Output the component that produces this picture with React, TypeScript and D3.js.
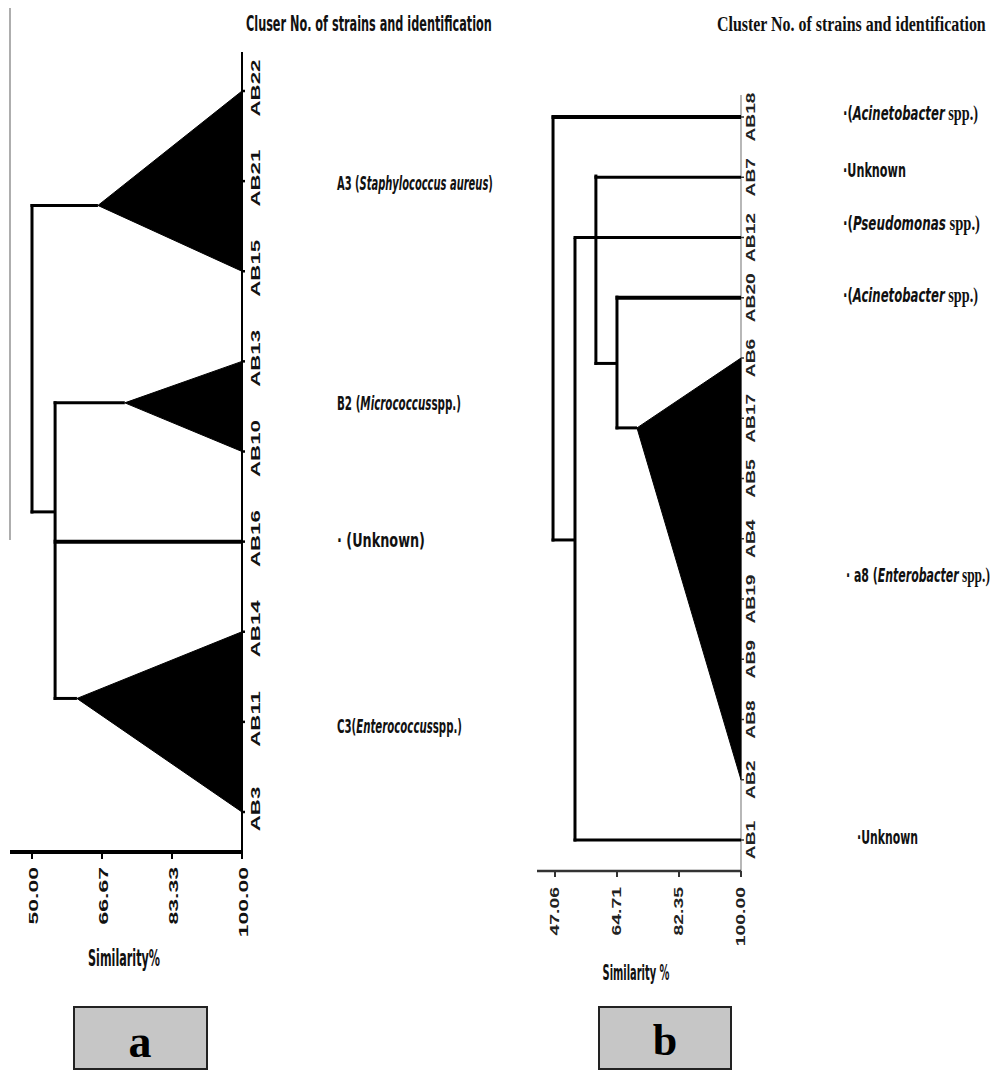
import React, { useLayoutEffect, useRef, useState } from "react";
import * as d3 from "d3";

// ---------- Panel a data ----------
const leavesA = ["AB22", "AB21", "AB15", "AB13", "AB10", "AB16", "AB14", "AB11", "AB3"];
const ticksA = [50.0, 66.67, 83.33, 100.0];
// collapsed clusters: [firstLeafIdx, lastLeafIdx, apexSimilarity, apexYIdx]
const clustersA: [number, number, number, number][] = [
  [0, 2, 65.7, 1.27],
  [3, 4, 72.1, 3.46],
  [6, 8, 60.7, 6.74],
];
// vertical joins: [similarity, yIdxTop, yIdxBottom]
const joinsA: [number, number, number][] = [
  [50.0, 1.27, 4.67],
  [55.5, 3.46, 6.74],
];
// horizontal branches: [fromSim, toSim, yIdx, weight]
const branchesA: [number, number, number, number][] = [
  [50.0, 65.7, 1.27, 3],
  [50.0, 55.5, 4.67, 3],
  [55.5, 72.1, 3.46, 3],
  [55.5, 100, 5, 4],
  [55.5, 60.7, 6.74, 3],
];
const labelsA = [
  { y: 1.03, pre: "A3 (", it: "Staphylococcus aureus", post: ")", len: 156 },
  { y: 3.47, pre: "B2 (", it: "Micrococcus", post: "spp.)", len: 124 },
  { y: 4.99, pre: "\u00B7 (Unknown)", it: "", post: "", len: 88 },
  { y: 7.06, pre: "C3(", it: "Enterococcus", post: "spp.)", len: 125 },
];

// ---------- Panel b data ----------
const leavesB = ["AB18", "AB7", "AB12", "AB20", "AB6", "AB17", "AB5", "AB4", "AB19", "AB9", "AB8", "AB2", "AB1"];
const ticksB = [47.06, 64.71, 82.35, 100.0];
const clustersB: [number, number, number, number][] = [[4, 11, 70.4, 5.16]];
const joinsB: [number, number, number][] = [
  [46.5, 0, 7.02],
  [52.75, 2.03, 12],
  [58.7, 0.98, 4.09],
  [64.7, 2.99, 5.16],
];
const branchesB: [number, number, number, number][] = [
  [46.5, 100, 0, 4],
  [46.5, 52.75, 7.02, 3],
  [52.75, 100, 2, 3],
  [52.75, 100, 12, 3],
  [58.7, 100, 1, 3],
  [58.7, 64.7, 4.09, 3],
  [64.7, 100, 3, 4],
  [64.7, 70.4, 5.16, 3],
];
const labelsB = [
  { y: 119, pre: "\u00B7(", it: "Acinetobacter", post: " spp.)", len: 135 },
  { y: 176, pre: "\u00B7Unknown", it: "", post: "", len: 63 },
  { y: 229, pre: "\u00B7(", it: "Pseudomonas", post: " spp.)", len: 137 },
  { y: 301, pre: "\u00B7(", it: "Acinetobacter", post: " spp.)", len: 135 },
  { y: 581, pre: "\u00B7 a8 (", it: "Enterobacter", post: " spp.)", len: 144, x: 846 },
  { y: 843, pre: "\u00B7Unknown", it: "", post: "", len: 61, x: 857 },
];

const NARROW = "'Liberation Sans Narrow', 'DejaVu Sans Condensed', 'Liberation Sans', sans-serif";
const ARIAL = "'Liberation Sans', Arial, sans-serif";
const SERIF = "'Liberation Serif', 'Times New Roman', serif";

// Text that is scaled horizontally to fill a target width (keeps tspans flowing naturally)
function FitText(props: {
  x: number;
  y: number;
  width: number;
  anchor?: "start" | "middle";
  fontFamily: string;
  fontSize: number;
  fontWeight?: string;
  children: React.ReactNode;
}) {
  const ref = useRef<SVGTextElement>(null);
  const [sx, setSx] = useState(1);
  useLayoutEffect(() => {
    if (ref.current) {
      const w = ref.current.getComputedTextLength();
      if (w > 0) setSx(props.width / w);
    }
  }, [props.width]);
  return (
    <g transform={`translate(${props.x},${props.y}) scale(${sx},1)`}>
      <text
        ref={ref}
        x={0}
        y={0}
        textAnchor={props.anchor ?? "start"}
        fontFamily={props.fontFamily}
        fontSize={props.fontSize}
        fontWeight={props.fontWeight ?? "bold"}
        fill="#111"
      >
        {props.children}
      </text>
    </g>
  );
}

export default function App() {
  const xA = d3.scaleLinear().domain([50, 100]).range([32, 242]);
  const yA = d3.scaleLinear().domain([0, 8]).range([91, 812]);
  const xB = d3.scaleLinear().domain([47.06, 100]).range([555, 741]);
  const yB = d3.scaleLinear().domain([0, 12]).range([117, 840]);
  const line = d3.line<[number, number]>();

  const tri = (x: d3.ScaleLinear<number, number>, y: d3.ScaleLinear<number, number>, c: [number, number, number, number], i: number) => (
    <path
      key={i}
      d={line([[x(c[2]), y(c[3])], [x(100), y(c[0])], [x(100), y(c[1])]])! + "Z"}
      fill="#000"
      stroke="#000"
      strokeWidth={1}
    />
  );

  return (
    <svg width={995} height={1070} style={{ position: "absolute", left: 0, top: 0, background: "#fff" }}>
      {/* ===== Panel a ===== */}
      <line x1={10} x2={10} y1={8} y2={540} stroke="#777" strokeWidth={1.2} />
      <FitText x={246} y={31} width={246} fontFamily={NARROW} fontSize={21}>
        Cluser No. of strains and identification
      </FitText>
      {/* leaf axis */}
      <line x1={xA(100)} x2={xA(100)} y1={52} y2={852} stroke="#000" strokeWidth={2} />
      {clustersA.map((c, i) => tri(xA, yA, c, i))}
      {joinsA.map((j, i) => (
        <line key={i} x1={xA(j[0])} x2={xA(j[0])} y1={yA(j[1]) - 1.5} y2={yA(j[2]) + 1.5} stroke="#000" strokeWidth={3} />
      ))}
      {branchesA.map((b, i) => (
        <line key={i} x1={xA(b[0]) - 1.5} x2={xA(b[1])} y1={yA(b[2])} y2={yA(b[2])} stroke="#000" strokeWidth={b[3]} />
      ))}
      {leavesA.map((l, i) => (
        <g key={l}>
          <line x1={xA(100)} x2={xA(100) + 3} y1={yA(i)} y2={yA(i)} stroke="#000" strokeWidth={2.5} />
          <text
            transform={`translate(255,${yA(i) - 3}) rotate(-90) scale(1.65,1)`}
            textAnchor="middle"
            dy="0.35em"
            fontFamily={ARIAL}
            fontWeight="bold"
            fontSize={13.5}
            fill="#111"
          >
            {l}
          </text>
        </g>
      ))}
      {/* similarity axis */}
      <line x1={10} x2={xA(100)} y1={852} y2={852} stroke="#000" strokeWidth={4} />
      {ticksA.map((t) => (
        <g key={t}>
          <line x1={xA(t)} x2={xA(t)} y1={852} y2={859} stroke="#000" strokeWidth={2} />
          <text
            transform={`translate(${xA(t) + 1},867) rotate(-90) scale(1.7,1)`}
            textAnchor="end"
            dy="0.35em"
            fontFamily={ARIAL}
            fontWeight="bold"
            fontSize={13.5}
            fill="#111"
          >
            {t.toFixed(2)}
          </text>
        </g>
      ))}
      <FitText x={124} y={966} width={72} anchor="middle" fontFamily={NARROW} fontSize={23}>
        Similarity%
      </FitText>
      {labelsA.map((lb, i) => (
        <FitText key={i} x={337} y={yA(lb.y) + 6} width={lb.len} fontFamily={NARROW} fontSize={20}>
          {lb.pre}
          {lb.it && <tspan fontStyle="italic">{lb.it}</tspan>}
          {lb.post}
        </FitText>
      ))}
      <rect x={74} y={1007} width={133} height={62} fill="#c6c6c6" stroke="#222" strokeWidth={2} />
      <text x={140} y={1057} textAnchor="middle" fontFamily={SERIF} fontWeight="bold" fontSize={46} fill="#000">
        a
      </text>

      {/* ===== Panel b ===== */}
      <FitText x={717} y={31} width={269} fontFamily={SERIF} fontSize={21}>
        Cluster No. of strains and identification
      </FitText>
      <line x1={xB(100)} x2={xB(100)} y1={95} y2={872} stroke="#888" strokeWidth={1.2} />
      {clustersB.map((c, i) => tri(xB, yB, c, i))}
      {joinsB.map((j, i) => (
        <line key={i} x1={xB(j[0])} x2={xB(j[0])} y1={yB(j[1]) - 1.5} y2={yB(j[2]) + 1.5} stroke="#000" strokeWidth={3} />
      ))}
      {branchesB.map((b, i) => (
        <line key={i} x1={xB(b[0]) - 1.5} x2={xB(b[1])} y1={yB(b[2])} y2={yB(b[2])} stroke="#000" strokeWidth={b[3]} />
      ))}
      {leavesB.map((l, i) => (
        <g key={l}>
          <line x1={xB(100)} x2={xB(100) + 3} y1={yB(i)} y2={yB(i)} stroke="#333" strokeWidth={1.5} />
          <text
            transform={`translate(751,${yB(i)}) rotate(-90) scale(1.6,1)`}
            textAnchor="middle"
            dy="0.35em"
            fontFamily={ARIAL}
            fontWeight="bold"
            fontSize={12}
            fill="#222"
          >
            {l}
          </text>
        </g>
      ))}
      <line x1={537} x2={xB(100)} y1={871} y2={871} stroke="#333" strokeWidth={2.5} />
      {ticksB.map((t) => (
        <g key={t}>
          <line x1={xB(t)} x2={xB(t)} y1={871} y2={877} stroke="#333" strokeWidth={2} />
          <text
            transform={`translate(${xB(t)},887) rotate(-90) scale(1.55,1)`}
            textAnchor="end"
            dy="0.35em"
            fontFamily={ARIAL}
            fontWeight="bold"
            fontSize={12.5}
            fill="#222"
          >
            {t.toFixed(2)}
          </text>
        </g>
      ))}
      <FitText x={636} y={980} width={67} anchor="middle" fontFamily={NARROW} fontSize={22}>
        Similarity %
      </FitText>
      {labelsB.map((lb, i) => (
        <FitText key={i} x={lb.x ?? 843} y={lb.y + 1} width={lb.len} fontFamily={NARROW} fontSize={20}>
          {lb.pre}
          {lb.it && <tspan fontStyle="italic">{lb.it}</tspan>}
          {lb.post && <tspan fontFamily={SERIF} fontSize={22}>{lb.post}</tspan>}
        </FitText>
      ))}
      <rect x={599} y={1007} width={132} height={62} fill="#c6c6c6" stroke="#222" strokeWidth={2} />
      <text x={665} y={1055} textAnchor="middle" fontFamily={SERIF} fontWeight="bold" fontSize={44} fill="#000">
        b
      </text>
    </svg>
  );
}
